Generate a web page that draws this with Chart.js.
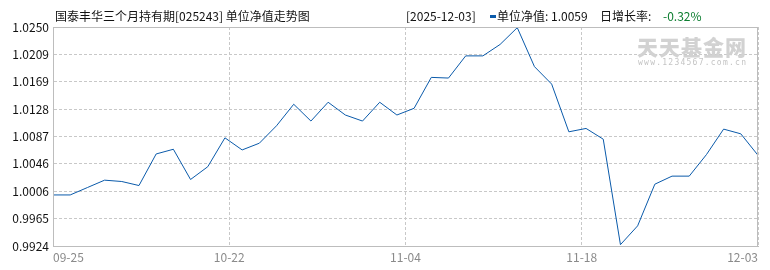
<!DOCTYPE html>
<html>
<head>
<meta charset="utf-8">
<script src="https://cdn.jsdelivr.net/npm/chart.js@4/dist/chart.umd.min.js"></script>
<style>
  html, body { margin:0; padding:0; background:#fff; }
  #wrap { position:relative; width:770px; height:270px; overflow:hidden; }
  #wrap canvas { position:absolute; left:0; top:0; }
  .t { position:absolute; white-space:nowrap; font-family:"Noto Sans CJK SC", sans-serif; font-size:12px; line-height:12px; color:#111; }
  .wm { position:absolute; white-space:nowrap; color:#d2d2d2; }
</style>
</head>
<body>
<div id="wrap">
  <canvas id="c" width="770" height="270"></canvas>
  <div class="t" id="title" style="left:55px; top:10px;"></div>
  <div class="t" id="hdate" style="left:406px; top:10px;"></div>
  <div style="position:absolute; left:490px; top:15px; width:6px; height:3px; background:#0a5aaa;"></div>
  <div class="t" id="hnav" style="left:497px; top:10px;"></div>
  <div class="t" id="hchgLabel" style="left:600px; top:10px;"></div>
  <div class="t" id="hchg" style="left:663px; top:10px; color:#0b7d2f;"></div>
  <div class="wm" style="left:637px; top:34px; font-family:'Noto Sans CJK SC',sans-serif; font-weight:900; font-size:21px; line-height:24px; letter-spacing:1px;">天天基金网</div>
  <div class="wm" style="left:638px; top:59px; font-family:'DejaVu Sans Mono',monospace; font-size:8px; line-height:8px; letter-spacing:1.25px; color:#c4c4c4;">www.1234567.com.cn</div>
</div>
<script>
// ---- data ----
const fundTitle = '国泰丰华三个月持有期[025243] 单位净值走势图';
const latestDate = '2025-12-03';
const latestNav = '1.0059';
const dailyChange = '-0.32%';
const xTickLabels = ['09-25', '10-22', '11-04', '11-18', '12-03'];
const yTickLabels = ['1.0250', '1.0209', '1.0169', '1.0128', '1.0087', '1.0046', '1.0006', '0.9965', '0.9924'];
const navValues = [
  1.0000, 1.0000, 1.0011, 1.0022, 1.0020, 1.0014, 1.0061, 1.0068, 1.0023, 1.0042,
  1.0085, 1.0067, 1.0077, 1.0103, 1.0135, 1.0110, 1.0138, 1.0119, 1.0110, 1.0138,
  1.0119, 1.0129, 1.0175, 1.0174, 1.0207, 1.0207, 1.0224, 1.0249, 1.0191, 1.0165,
  1.0094, 1.0099, 1.0083, 0.9926, 0.9954, 1.0016, 1.0028, 1.0028, 1.0060, 1.0098,
  1.0091, 1.0059
];

document.getElementById('title').textContent = fundTitle;
document.getElementById('hdate').textContent = '[' + latestDate + ']';
document.getElementById('hnav').textContent = '单位净值: ' + latestNav;
document.getElementById('hchgLabel').textContent = '日增长率:';
document.getElementById('hchg').textContent = dailyChange;

const lastIdx = navValues.length - 1;
const yMax = parseFloat(yTickLabels[0]);
const yMin = parseFloat(yTickLabels[yTickLabels.length - 1]);
const points = navValues.map((v, i) => ({ x: i, y: v }));

const frame = {
  id: 'frame',
  afterDatasetsDraw(chart) {
    const a = chart.chartArea, ctx = chart.ctx;
    ctx.save();
    ctx.strokeStyle = '#bdbdbd';
    ctx.lineWidth = 1;
    ctx.strokeRect(Math.round(a.left) + 0.5, Math.round(a.top) + 0.5,
                   Math.round(a.right) - Math.round(a.left) - 1, Math.round(a.bottom) - Math.round(a.top));
    ctx.restore();
  }
};

new Chart(document.getElementById('c'), {
  type: 'line',
  data: { datasets: [{ data: points, borderColor: '#0a5aaa', borderWidth: 1, pointRadius: 0, tension: 0, fill: false }] },
  options: {
    responsive: false, animation: false,
    layout: { padding: { top: 27, right: 12, left: 0, bottom: 0 } },
    plugins: { legend: { display: false }, tooltip: { enabled: false } },
    scales: {
      x: {
        type: 'linear', min: 0, max: lastIdx,
        afterBuildTicks(s) { s.ticks = xTickLabels.map((l, k) => ({ value: lastIdx * k / (xTickLabels.length - 1) })); },
        afterFit(s) { s.height = 24; },
        ticks: { align: 'inner', maxRotation: 0, autoSkip: false, padding: 4, color: '#8a8a8a',
                 font: { family: 'Noto Sans CJK SC', size: 12 },
                 callback(v, i) { return xTickLabels[i]; } },
        grid: { color: '#c8c8c8', drawTicks: false },
        border: { display: true, color: '#bdbdbd', dash: [3, 2] }
      },
      y: {
        min: yMin, max: yMax,
        afterBuildTicks(s) { s.ticks = yTickLabels.map((l, k) => ({ value: yMin + (yMax - yMin) * k / (yTickLabels.length - 1) })); },
        afterFit(s) { s.width = 53; },
        ticks: { padding: 4, color: '#111', font: { family: 'Noto Sans CJK SC', size: 12 },
                 callback(v, i) { return yTickLabels[yTickLabels.length - 1 - i]; } },
        grid: { color: '#c8c8c8', drawTicks: false },
        border: { display: true, color: '#bdbdbd', dash: [3, 2] }
      }
    }
  },
  plugins: [frame]
});
</script>
</body>
</html>
